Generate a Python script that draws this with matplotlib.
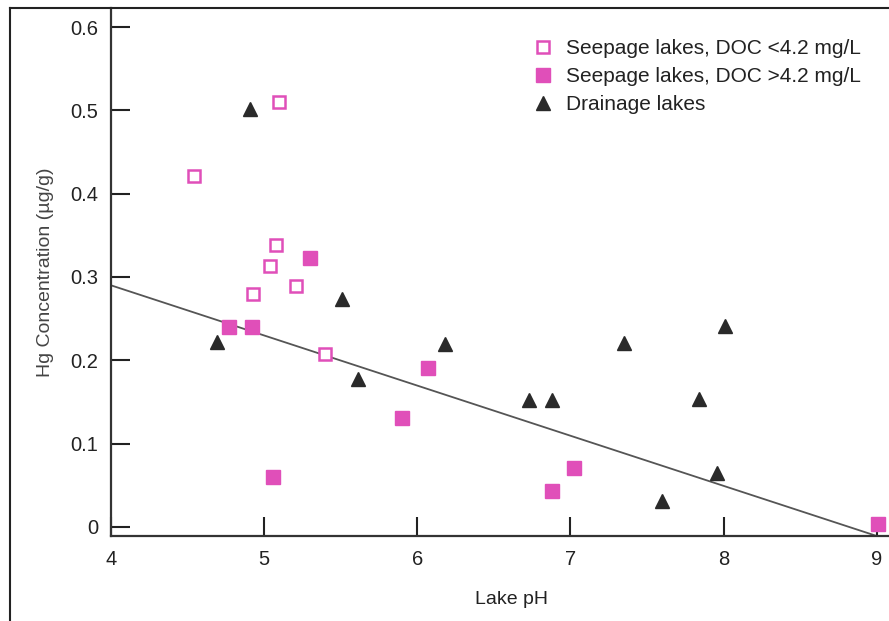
import matplotlib
matplotlib.use("Agg")
import matplotlib.pyplot as plt
from matplotlib.lines import Line2D

plt.rcParams['font.family'] = ['Liberation Sans', 'DejaVu Sans']

# seepage lakes, DOC < 4.2 mg/L (open squares)
low_ph = [4.54, 5.10, 5.08, 5.04, 4.93, 5.21, 5.40]
low_hg = [0.421, 0.510, 0.339, 0.313, 0.279, 0.289, 0.208]

# seepage lakes, DOC > 4.2 mg/L (filled squares)
high_ph = [4.77, 4.92, 5.30, 5.06, 5.90, 6.07, 6.88, 7.02, 9.01]
high_hg = [0.240, 0.240, 0.323, 0.060, 0.131, 0.191, 0.043, 0.071, 0.004]

# drainage lakes (triangles)
drain_ph = [4.91, 4.69, 5.51, 5.61, 6.18, 6.73, 6.88, 7.35, 7.84, 7.96, 7.60, 8.01]
drain_hg = [0.502, 0.222, 0.274, 0.178, 0.220, 0.152, 0.152, 0.221, 0.154, 0.065, 0.031, 0.241]

# regression line
fit_ph = [4.0, 9.0]
fit_hg = [0.290, -0.011]

xticks = [4, 5, 6, 7, 8, 9]
yticks = [0, 0.1, 0.2, 0.3, 0.4, 0.5, 0.6]
ytick_labels = ['0', '0.1', '0.2', '0.3', '0.4', '0.5', '0.6']

pink = '#e04fb9'
dark = '#2a2a2a'

fig = plt.figure(figsize=(8.89, 6.21), dpi=100)
ax = fig.add_axes([111/889, 85/621, 778/889, 528/621])

ax.plot(fit_ph, fit_hg, color='#555555', lw=1.3, zorder=1)
ax.plot(low_ph, low_hg, ls='none', marker='s', ms=8.5, mfc='white', mec=pink, mew=1.8,
        label='Seepage lakes, DOC <4.2 mg/L', zorder=3)
ax.plot(high_ph, high_hg, ls='none', marker='s', ms=9.5, mfc=pink, mec=pink,
        label='Seepage lakes, DOC >4.2 mg/L', zorder=3)
ax.plot(drain_ph, drain_hg, ls='none', marker='^', ms=10, mfc=dark, mec=dark,
        label='Drainage lakes', zorder=3)

ax.set_xlim(4, 9.08)
ax.set_ylim(-0.011, 0.623)
ax.set_xticks(xticks)
ax.set_yticks(yticks)
ax.set_yticklabels(ytick_labels)
ax.tick_params(direction='in', length=13.5, width=1.5, labelsize=14.5, colors='#222222')
ax.tick_params(axis='y', pad=9)
ax.tick_params(axis='x', pad=10)

for s in ['top', 'right']:
    ax.spines[s].set_visible(False)
for s in ['left', 'bottom']:
    ax.spines[s].set_linewidth(1.6)
    ax.spines[s].set_color('#333333')

ax.set_xlabel('Lake pH', fontsize=14, color='#222222')
ax.xaxis.set_label_coords(0.515, -0.105)
ax.set_ylabel('Hg Concentration (µg/g)', fontsize=14, color='#444444')
ax.yaxis.set_label_coords(-0.073, 0.5)

ax.legend(loc='upper left', bbox_to_anchor=(0.529, 0.957), frameon=False, fontsize=15,
          handletextpad=0.5, labelspacing=0.44, borderaxespad=0, handlelength=1.2,
          labelcolor='#222222')

# outer frame lines (left and top)
fig.add_artist(Line2D([10/889, 10/889], [0, 1 - 8/621], transform=fig.transFigure, color='#222222', lw=1.5))
fig.add_artist(Line2D([10/889, 1], [1 - 8/621, 1 - 8/621], transform=fig.transFigure, color='#222222', lw=1.5))

fig.savefig('out.png', dpi=100)
